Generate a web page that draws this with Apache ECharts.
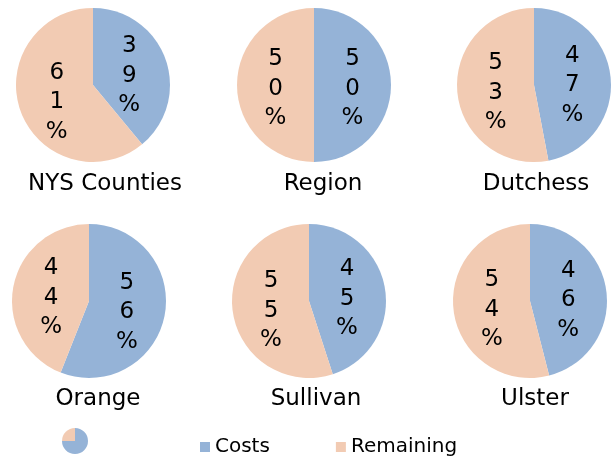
<!DOCTYPE html>
<html><head><meta charset="utf-8">
<script src="https://cdn.jsdelivr.net/npm/echarts@6/dist/echarts.min.js"></script>
<style>html,body{margin:0;padding:0;background:#fff}#c{width:613px;height:460px}</style>
</head><body><div id="c"></div>
<script>
const regions = ['NYS Counties', 'Region', 'Dutchess', 'Orange', 'Sullivan', 'Ulster'];
const seriesNames = ['Costs', 'Remaining'];
const costs = [39, 50, 47, 56, 45, 46];
const remaining = [61, 50, 53, 44, 55, 54];
const iconValues = [75, 25];

const colors = ['#95B3D7', '#F2CBB3'];
const FONT = '"DejaVu Sans"';
const centers = [[93, 85], [314, 85], [534, 85], [89, 301], [309, 301], [530, 301]];
const titlePos = [[100, 168], [318, 168], [531, 168], [93, 383], [311, 383], [530, 383]];
const R = 77;

const series = [];
regions.forEach((name, i) => {
  const data = [
    { name: seriesNames[0], value: costs[i], itemStyle: { color: colors[0] } },
    { name: seriesNames[1], value: remaining[i], itemStyle: { color: colors[1] } }
  ];
  series.push({
    type: 'pie', name: name, center: centers[i], radius: [0, R],
    startAngle: 90, clockwise: true, silent: true, animation: false,
    label: { show: false }, labelLine: { show: false },
    itemStyle: { borderWidth: 0 },
    data: data
  });
  // transparent label carrier, placing labels slightly nearer the centre and a little lower
  series.push({
    type: 'pie', name: name + ' labels', center: [centers[i][0], centers[i][1] + 4], radius: [0, R - 6],
    startAngle: 90, clockwise: true, silent: true, animation: false,
    itemStyle: { color: 'rgba(0,0,0,0)', borderWidth: 0 },
    label: {
      show: true, position: 'inside', color: '#000', fontFamily: FONT, fontSize: 23, lineHeight: 29.5,
      formatter: p => String(p.value + '%').split('').join('\n')
    },
    labelLine: { show: false },
    data: data.map(d => ({ name: d.name, value: d.value, itemStyle: { color: 'rgba(0,0,0,0)' } }))
  });
});
series.push({
  type: 'pie', name: 'icon', center: [75, 441], radius: [0, 13],
  startAngle: 90, clockwise: true, silent: true, animation: false,
  label: { show: false }, labelLine: { show: false },
  data: [
    { name: seriesNames[0], value: iconValues[0], itemStyle: { color: colors[0] } },
    { name: seriesNames[1], value: iconValues[1], itemStyle: { color: colors[1] } }
  ]
});

const chart = echarts.init(document.getElementById('c'), null, { renderer: 'canvas' });
chart.setOption({
  backgroundColor: '#fff',
  animation: false,
  color: colors,
  title: regions.map((r, i) => ({
    text: r, left: titlePos[i][0], top: titlePos[i][1], textAlign: 'center',
    textStyle: { fontFamily: FONT, fontSize: 23, fontWeight: 'normal', color: '#000' }
  })),
  legend: {
    data: seriesNames, left: 195, top: 432, icon: 'rect', itemWidth: 10, itemHeight: 10,
    itemGap: 66, selectedMode: false,
    textStyle: { fontFamily: FONT, fontSize: 20, color: '#000' }
  },
  series: series
});
</script></body></html>
